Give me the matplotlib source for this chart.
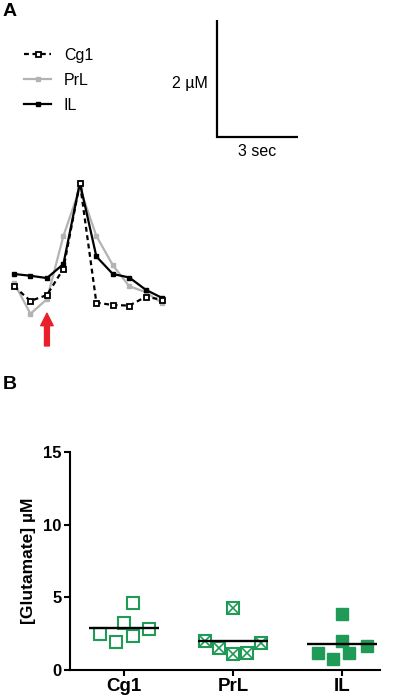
import numpy as np
import matplotlib
matplotlib.use('Agg')
import matplotlib.pyplot as plt

plt.rcParams['font.family'] = ['Liberation Sans', 'DejaVu Sans']

# --- panel A: example traces (uM above baseline), one sample every ~0.6 s
times = np.arange(10) * 0.61
cg1_trace = [0.32, 0.07, 0.17, 0.62, 2.09, 0.04, 0.00, -0.01, 0.14, 0.09]
prl_trace = [0.38, -0.15, 0.10, 1.18, 2.00, 1.18, 0.68, 0.32, 0.22, 0.03]
il_trace = [0.53, 0.50, 0.46, 0.70, 2.09, 0.83, 0.53, 0.47, 0.26, 0.12]
stim_index = 2

# --- panel B: glutamate peak per animal
regions = ['Cg1', 'PrL', 'IL']
cg1_vals = [2.48, 1.95, 3.22, 2.34, 4.64, 2.80]
prl_vals = [2.02, 1.54, 1.10, 1.20, 4.30, 1.84]
il_vals = [1.20, 0.73, 2.00, 1.20, 3.84, 1.66]
cg1_jit = [-0.22, -0.07, 0.0, 0.08, 0.08, 0.23]
prl_jit = [-0.26, -0.13, 0.0, 0.13, 0.0, 0.26]
il_jit = [-0.22, -0.08, 0.0, 0.07, 0.0, 0.23]

green = '#1f9a57'

fig = plt.figure(figsize=(4, 6.99), dpi=100)

# trace panel uses whole figure as canvas (27 px per s, 58.5 px per uM)
axA = fig.add_axes([0, 0, 1, 1])
axA.set_xlim(-14 / 27, (400 - 14) / 27)
axA.set_ylim((305 - 699) / 58.5, 305 / 58.5)
axA.axis('off')

axA.plot(times, prl_trace, color='#b3b3b3', lw=1.6, marker='s', ms=3,
         label='PrL', zorder=2)
axA.plot(times, il_trace, color='black', lw=1.6, marker='s', ms=3.5,
         label='IL', zorder=3)
axA.plot(times, cg1_trace, color='black', lw=1.6, ls=(0, (2.2, 1.6)),
         marker='s', ms=3.6, mfc='white', mec='black', mew=1.3,
         label='Cg1', zorder=4)

h, l = axA.get_legend_handles_labels()
order = [2, 0, 1]
axA.legend([h[i] for i in order], [l[i] for i in order],
           loc='upper left', bbox_to_anchor=(24 / 400, 1 - 48 / 699),
           bbox_transform=fig.transFigure, frameon=False, fontsize=11.5,
           handlelength=1.7, handletextpad=0.8, labelspacing=0.62,
           borderpad=0, borderaxespad=0)

# red stimulus arrow
axA.annotate('', xy=(times[stim_index], -0.14), xytext=(times[stim_index], -0.70),
             arrowprops=dict(arrowstyle='simple,head_length=0.9,head_width=0.9,tail_width=0.35',
                             color='#e8202a', mutation_scale=10, shrinkA=0, shrinkB=0))

# scale bar: 3 sec x 2 uM
sb_x, sb_y = 7.52, 2.87
axA.plot([sb_x, sb_x, sb_x + 3], [sb_y + 2, sb_y, sb_y], color='black', lw=1.6,
         solid_capstyle='butt', solid_joinstyle='miter')
axA.text(sb_x - 0.33, sb_y + 0.92, '2 µM', ha='right', va='center', fontsize=11.5)
axA.text(sb_x + 1.5, sb_y - 0.24, '3 sec', ha='center', va='center', fontsize=11.5)

fig.text(3 / 400, 1 - 12 / 699, 'A', fontsize=14, fontweight='bold', va='center')
fig.text(3 / 400, 1 - 385 / 699, 'B', fontsize=14, fontweight='bold', va='center')

# --- panel B scatter
axB = fig.add_axes([70 / 400, 29 / 699, 310 / 400, 217.7 / 699])
axB.patch.set_alpha(0)
x = np.arange(len(regions))
axB.plot(x[0] + np.array(cg1_jit), cg1_vals, 's', ms=8, mfc='white', mec=green,
         mew=1.5, ls='none')
axB.plot(x[1] + np.array(prl_jit), prl_vals, 's', ms=8, mfc='white', mec=green,
         mew=1.5, ls='none')
axB.plot(x[1] + np.array(prl_jit), prl_vals, 'x', ms=6.5, mec=green,
         mew=1.2, ls='none')
axB.plot(x[2] + np.array(il_jit), il_vals, 's', ms=8, mfc=green, mec=green,
         mew=1.0, ls='none')
for xi, vals in zip(x, [cg1_vals, prl_vals, il_vals]):
    axB.hlines(np.mean(vals), xi - 0.32, xi + 0.32, color='black', lw=1.7, zorder=5)

axB.set_xlim(-0.495, 2.35)
axB.set_ylim(0, 15)
axB.set_yticks([0, 5, 10, 15])
axB.set_xticks(x)
axB.set_xticklabels(regions, fontsize=13.5, fontweight='bold')
for t in axB.get_yticklabels():
    t.set_fontweight('bold')
    t.set_fontsize(12)
axB.set_ylabel('[Glutamate] µM', fontsize=12.5, fontweight='bold', labelpad=5)
axB.spines['top'].set_visible(False)
axB.spines['right'].set_visible(False)
axB.spines['left'].set_linewidth(1.5)
axB.spines['bottom'].set_linewidth(1.5)
axB.tick_params(width=1.5, length=4, pad=2)

fig.savefig('out.png', dpi=100)
